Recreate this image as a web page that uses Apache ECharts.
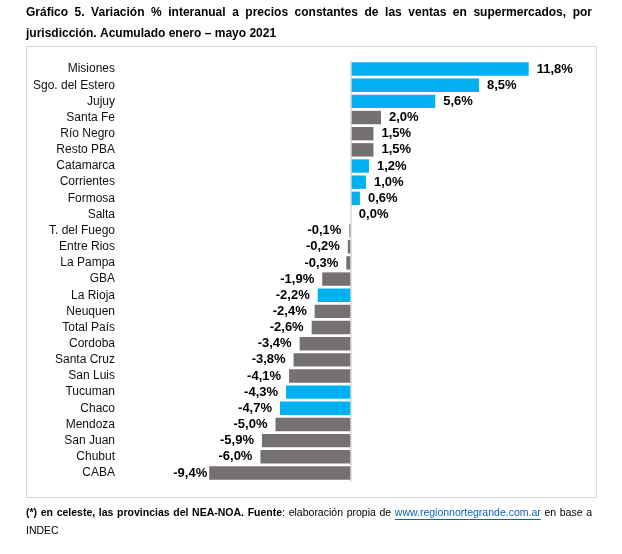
<!DOCTYPE html>
<html>
<head>
<meta charset="utf-8">
<script src="https://cdn.jsdelivr.net/npm/echarts@6/dist/echarts.min.js"></script>
<style>
  html, body { margin: 0; padding: 0; background: #fff; }
  #chart { width: 622px; height: 554px; }
</style>
</head>
<body>
<div id="chart"></div>
<script>
// Variación % interanual ventas en supermercados por jurisdicción (ene–may 2021)

const categories = [
  'Misiones', 'Sgo. del Estero', 'Jujuy', 'Santa Fe', 'Río Negro', 'Resto PBA',
  'Catamarca', 'Corrientes', 'Formosa', 'Salta', 'T. del Fuego', 'Entre Rios',
  'La Pampa', 'GBA', 'La Rioja', 'Neuquen', 'Total País', 'Cordoba',
  'Santa Cruz', 'San Luis', 'Tucuman', 'Chaco', 'Mendoza', 'San Juan',
  'Chubut', 'CABA'
];

const values = [
  11.8, 8.5, 5.6, 2.0, 1.5, 1.5,
  1.2, 1.0, 0.6, 0.0, -0.1, -0.2,
  -0.3, -1.9, -2.2, -2.4, -2.6, -3.4,
  -3.8, -4.1, -4.3, -4.7, -5.0, -5.9,
  -6.0, -9.4
];

// true = provincia del NEA-NOA (celeste)
const neaNoa = [
  true, true, true, false, false, false,
  true, true, true, true, false, false,
  false, false, true, false, false, false,
  false, false, true, true, false, false,
  false, false
];

const CELESTE = '#00B0F0';
const GRIS = '#767171';
const FONT = '"Liberation Sans", Arial, sans-serif';

// --- text helpers (justified lines like the source document) ---
const ctx = document.createElement('canvas').getContext('2d');
function measure(text, font) { ctx.font = font; return ctx.measureText(text).width; }

const STYLES = {
  tb: { font: 'bold 12px ' + FONT, fill: '#000' },
  b:  { font: 'bold 10.5px ' + FONT, fill: '#000' },
  r:  { font: '10.5px ' + FONT, fill: '#000' },
  link: { font: '10.5px ' + FONT, fill: '#0563C1', underline: true },
};

// runs -> words (each word is a list of pieces), glue joins to previous word
function toWords(runs) {
  const words = [];
  runs.forEach(run => {
    run.t.split(' ').forEach((w, i) => {
      const piece = { t: w, st: STYLES[run.s] };
      if (i === 0 && run.glue && words.length) words[words.length - 1].push(piece);
      else words.push([piece]);
    });
  });
  return words;
}

function lineElements(runs, x0, x1, y, justify) {
  const words = toWords(runs);
  const wWidths = words.map(w => w.reduce((a, p) => a + measure(p.t, p.st.font), 0));
  const total = wWidths.reduce((a, b) => a + b, 0);
  const space = measure(' ', words[0][0].st.font);
  const gap = justify ? (x1 - x0 - total) / (words.length - 1) : space;
  const els = [];
  let x = x0;
  words.forEach(w => {
    w.forEach(p => {
      const pw = measure(p.t, p.st.font);
      els.push({
        type: 'text', silent: true,
        style: { text: p.t, x: x, y: y, font: p.st.font, fill: p.st.fill, verticalAlign: 'middle' }
      });
      if (p.st.underline) {
        els.push({
          type: 'line', silent: true,
          shape: { x1: x, y1: y + 6.5, x2: x + pw, y2: y + 6.5 },
          style: { stroke: p.st.fill, lineWidth: 1 }
        });
      }
      x += pw;
    });
    x += gap;
  });
  return els;
}

const fmt = v => v.toFixed(1).replace('.', ',') + '%';

const minValue = Math.min(...values);
const seriesData = values.map((v, i) => ({
  value: v,
  itemStyle: { color: neaNoa[i] ? CELESTE : GRIS },
  // the longest negative bar has its label tight against the bar
  label: { position: v < 0 ? 'left' : 'right', distance: v === minValue ? 2 : 8 }
}));

const graphics = [
  {
    type: 'rect', silent: true, z: -1,
    shape: { x: 26.5, y: 46.5, width: 570, height: 451 },
    style: { fill: 'none', stroke: '#d9d9d9', lineWidth: 1 }
  },
  ...lineElements([{ t: 'Gráfico 5. Variación % interanual a precios constantes de las ventas en supermercados, por', s: 'tb' }], 26, 592, 13, true),
  ...lineElements([{ t: 'jurisdicción. Acumulado enero – mayo 2021', s: 'tb' }], 26, 592, 34, false),
  ...lineElements([
    { t: '(*) en celeste, las provincias del NEA-NOA. Fuente', s: 'b' },
    { t: ': elaboración propia de', s: 'r', glue: true },
    { t: 'www.regionnortegrande.com.ar', s: 'link' },
    { t: 'en base a', s: 'r' }
  ], 26, 592, 513, true),
  ...lineElements([{ t: 'INDEC', s: 'r' }], 26, 592, 531, false),
];

const chart = echarts.init(document.getElementById('chart'), null, { renderer: 'canvas' });

chart.setOption({
  animation: false,
  textStyle: { fontFamily: FONT },
  grid: { left: 170, right: 30, top: 61, height: 420 },
  xAxis: {
    type: 'value',
    min: -12,
    max: 16,
    show: false,
  },
  yAxis: {
    type: 'category',
    data: categories,
    inverse: true,
    axisLine: { show: false },
    axisTick: { show: false },
    axisLabel: { color: '#111', fontSize: 12, fontFamily: FONT, margin: 55 },
  },
  series: [{
    type: 'bar',
    data: seriesData,
    barCategoryGap: '17%',
    label: {
      show: true,
      color: '#000',
      fontSize: 13,
      fontWeight: 'bold',
      fontFamily: FONT,
      formatter: p => fmt(p.value),
    },
    markLine: {
      silent: true,
      symbol: 'none',
      label: { show: false },
      lineStyle: { color: '#d9d9d9', type: 'solid', width: 1.5 },
      data: [{ xAxis: 0 }],
    },
  }],
  graphic: graphics,
});

window.addEventListener('resize', () => chart.resize());
</script>
</body>
</html>
